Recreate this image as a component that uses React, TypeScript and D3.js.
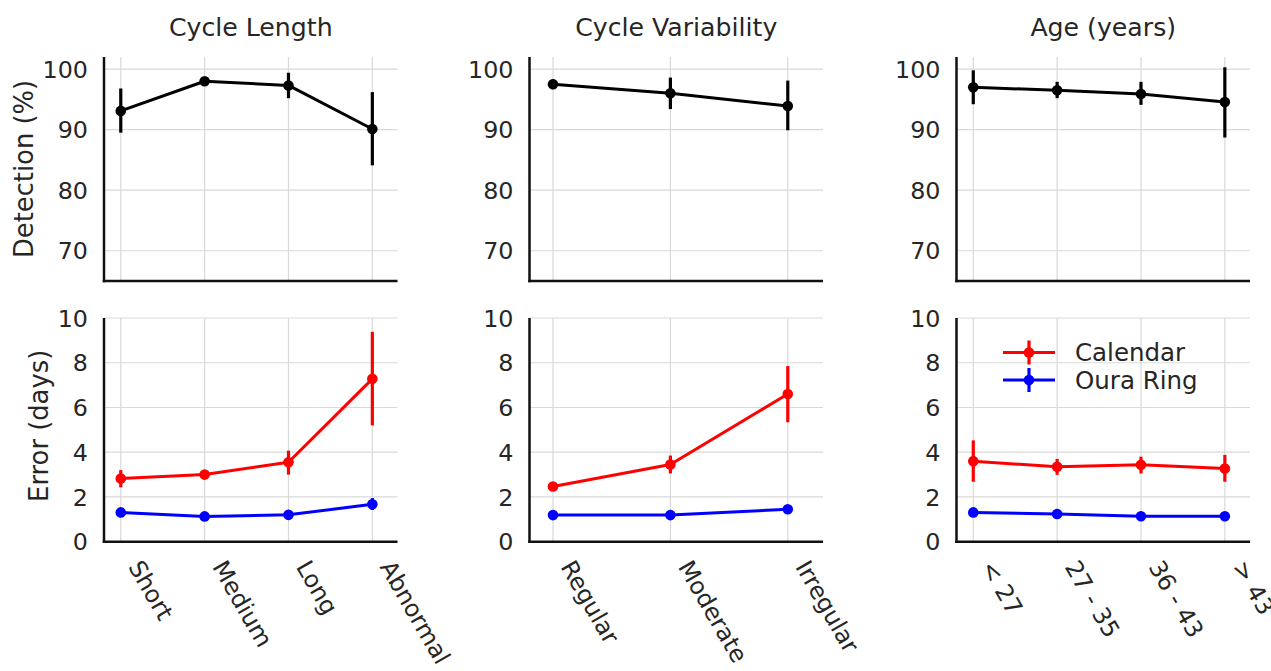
import React from "react";
import * as d3 from "d3";

// ---------- DATA ----------
const titles = ["Cycle Length", "Cycle Variability", "Age (years)"];

const lengthCats = ["Short", "Medium", "Long", "Abnormal"];
const lengthDet = [93.1, 98.0, 97.3, 90.1];
const lengthDetLo = [89.5, 97.4, 95.2, 84.1];
const lengthDetHi = [96.8, 98.6, 99.4, 96.2];
const lengthCal = [2.82, 3.0, 3.55, 7.28];
const lengthCalLo = [2.43, 2.85, 3.0, 5.2];
const lengthCalHi = [3.2, 3.15, 4.07, 9.38];
const lengthOura = [1.31, 1.13, 1.2, 1.67];
const lengthOuraLo = [1.2, 1.05, 1.1, 1.42];
const lengthOuraHi = [1.42, 1.22, 1.3, 1.95];

const varCats = ["Regular", "Moderate", "Irregular"];
const varDet = [97.5, 96.0, 93.9];
const varDetLo = [96.7, 93.4, 89.9];
const varDetHi = [98.3, 98.6, 98.1];
const varCal = [2.47, 3.45, 6.6];
const varCalLo = [2.4, 3.05, 5.34];
const varCalHi = [2.55, 3.85, 7.85];
const varOura = [1.19, 1.19, 1.45];
const varOuraLo = [1.12, 1.12, 1.36];
const varOuraHi = [1.26, 1.26, 1.55];

const ageCats = ["< 27", "27 - 35", "36 - 43", "> 43"];
const ageDet = [97.0, 96.5, 95.9, 94.55];
const ageDetLo = [94.2, 95.2, 94.1, 88.7];
const ageDetHi = [99.8, 97.9, 97.9, 100.3];
const ageCal = [3.6, 3.35, 3.44, 3.27];
const ageCalLo = [2.68, 2.99, 3.05, 2.68];
const ageCalHi = [4.53, 3.7, 3.8, 3.88];
const ageOura = [1.31, 1.24, 1.14, 1.14];
const ageOuraLo = [1.22, 1.16, 1.07, 1.07];
const ageOuraHi = [1.4, 1.32, 1.21, 1.21];

const detTicks = [70, 80, 90, 100];
const errTicks = [0, 2, 4, 6, 8, 10];
const legendLabels = ["Calendar", "Oura Ring"];

// ---------- LAYOUT ----------
const W = 1271;
const H = 671;
const panelLefts = [104, 529.5, 956.5];
const panelW = 293.5;
const topY0 = 57, topY1 = 281;
const botY0 = 318, botY1 = 541.7;
const TXT = "#262626";
const GRID = "#d9d9d9";
const FONT = "DejaVu Sans, sans-serif";
const TICK_FS = 23.8;

type Series = { v: number[]; lo: number[]; hi: number[]; color: string };

const panels = [
  {
    cats: lengthCats,
    det: { v: lengthDet, lo: lengthDetLo, hi: lengthDetHi, color: "#000" },
    err: [
      { v: lengthCal, lo: lengthCalLo, hi: lengthCalHi, color: "#ff0000" },
      { v: lengthOura, lo: lengthOuraLo, hi: lengthOuraHi, color: "#0000ff" },
    ],
  },
  {
    cats: varCats,
    det: { v: varDet, lo: varDetLo, hi: varDetHi, color: "#000" },
    err: [
      { v: varCal, lo: varCalLo, hi: varCalHi, color: "#ff0000" },
      { v: varOura, lo: varOuraLo, hi: varOuraHi, color: "#0000ff" },
    ],
  },
  {
    cats: ageCats,
    det: { v: ageDet, lo: ageDetLo, hi: ageDetHi, color: "#000" },
    err: [
      { v: ageCal, lo: ageCalLo, hi: ageCalHi, color: "#ff0000" },
      { v: ageOura, lo: ageOuraLo, hi: ageOuraHi, color: "#0000ff" },
    ],
  },
];

function SeriesMarks({ s, x, y }: { s: Series; x: (i: number) => number; y: d3.ScaleLinear<number, number> }) {
  const line = d3
    .line<number>()
    .x((_, i) => x(i))
    .y((d) => y(d));
  return (
    <g>
      <path d={line(s.v) || ""} fill="none" stroke={s.color} strokeWidth={3} strokeLinejoin="round" />
      {s.v.map((_, i) => (
        <line key={"e" + i} x1={x(i)} x2={x(i)} y1={y(s.lo[i])} y2={y(s.hi[i])} stroke={s.color} strokeWidth={3.2} />
      ))}
      {s.v.map((d, i) => (
        <circle key={"c" + i} cx={x(i)} cy={y(d)} r={5.3} fill={s.color} />
      ))}
    </g>
  );
}

function Panel({ idx }: { idx: number }) {
  const p = panels[idx];
  const left = panelLefts[idx];
  const n = p.cats.length;
  const xs = d3.scaleLinear().domain([-0.2, n - 0.7]).range([left, left + panelW]);
  const x = (i: number) => xs(i);
  const yTop = d3.scaleLinear().domain([65, 102]).range([topY1, topY0]);
  const yBot = d3.scaleLinear().domain([0, 10]).range([botY1, botY0]);
  const right = left + panelW;
  return (
    <g>
      <text x={left + panelW / 2} y={36} textAnchor="middle" fontSize={25.2} fill={TXT} fontFamily={FONT}>
        {titles[idx]}
      </text>
      {[
        { y: yTop, ticks: detTicks, y0: topY0, y1: topY1 },
        { y: yBot, ticks: errTicks, y0: botY0, y1: botY1 },
      ].map((ax, k) => (
        <g key={k}>
          {ax.ticks.map((t) => (
            <line key={"h" + t} x1={left} x2={right} y1={ax.y(t)} y2={ax.y(t)} stroke={GRID} strokeWidth={1.2} />
          ))}
          {p.cats.map((_, i) => (
            <line key={"v" + i} x1={x(i)} x2={x(i)} y1={ax.y0} y2={ax.y1} stroke={GRID} strokeWidth={1.2} />
          ))}
          {ax.ticks.map((t) => (
            <text
              key={"t" + t}
              x={left - 16}
              y={ax.y(t)}
              dy="0.36em"
              textAnchor="end"
              fontSize={TICK_FS}
              fill={TXT}
              fontFamily={FONT}
            >
              {t}
            </text>
          ))}
          <line x1={left} x2={left} y1={ax.y0} y2={ax.y1 + 1.25} stroke="#111" strokeWidth={2.5} />
          <line x1={left - 1.25} x2={right} y1={ax.y1} y2={ax.y1} stroke="#111" strokeWidth={2.5} />
        </g>
      ))}
      <SeriesMarks s={p.det} x={x} y={yTop} />
      {p.err.map((s, k) => (
        <SeriesMarks key={k} s={s} x={x} y={yBot} />
      ))}
      {p.cats.map((c, i) => (
        <text
          key={"xl" + i}
          transform={`translate(${x(i) + 7},${botY1 + 25}) rotate(60)`}
          fontSize={TICK_FS}
          fill={TXT}
          fontFamily={FONT}
        >
          {c}
        </text>
      ))}
    </g>
  );
}

export default function App() {
  const legendColors = ["#ff0000", "#0000ff"];
  const legendY = [352.5, 380];
  return (
    <svg
      width={W}
      height={H}
      viewBox={`0 0 ${W} ${H}`}
      style={{ position: "absolute", left: 0, top: 0, background: "#fff" }}
    >
      <rect x={0} y={0} width={W} height={H} fill="#fff" />
      {panels.map((_, i) => (
        <Panel key={i} idx={i} />
      ))}
      <text
        transform={`translate(33,${(topY0 + topY1) / 2}) rotate(-90)`}
        textAnchor="middle"
        fontSize={25.8}
        fill={TXT}
        fontFamily={FONT}
      >
        Detection (%)
      </text>
      <text
        transform={`translate(48,${(botY0 + botY1) / 2 - 4}) rotate(-90)`}
        textAnchor="middle"
        fontSize={25.8}
        fill={TXT}
        fontFamily={FONT}
      >
        Error (days)
      </text>
      {legendLabels.map((l, i) => (
        <g key={l}>
          <line x1={1003} x2={1055} y1={legendY[i]} y2={legendY[i]} stroke={legendColors[i]} strokeWidth={3} />
          <line x1={1029} x2={1029} y1={legendY[i] - 12} y2={legendY[i] + 12} stroke={legendColors[i]} strokeWidth={3.2} />
          <circle cx={1029} cy={legendY[i]} r={5.3} fill={legendColors[i]} />
          <text x={1075} y={legendY[i]} dy="0.36em" fontSize={24.5} fill={TXT} fontFamily={FONT}>
            {l}
          </text>
        </g>
      ))}
    </svg>
  );
}
